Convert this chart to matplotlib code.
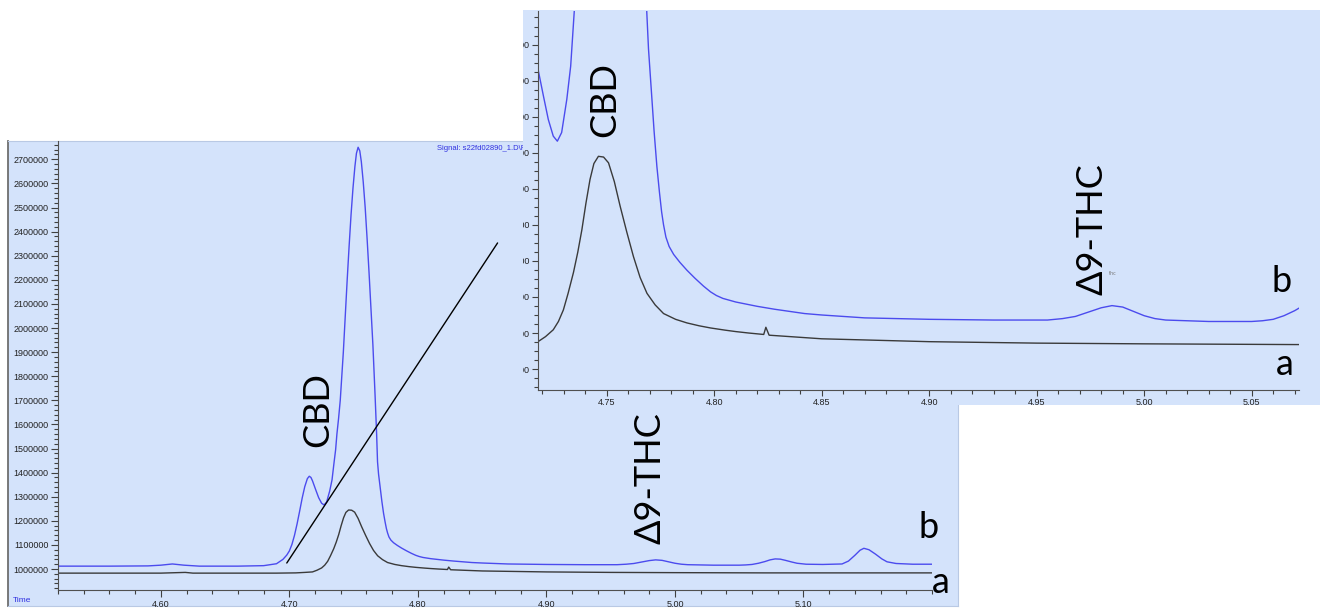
import matplotlib
matplotlib.use("Agg")
import matplotlib.pyplot as plt
from matplotlib.patches import ConnectionPatch
from matplotlib.ticker import MultipleLocator, FixedLocator, FuncFormatter

# Chromatogram traces (retention time in min, signal)
# trace b (blue)
t_b = [4.520, 4.560, 4.590, 4.600, 4.609, 4.618, 4.630, 4.660, 4.680, 4.690,
       4.6950, 4.6980, 4.7000, 4.7020, 4.7040, 4.7060, 4.7080, 4.7100, 4.7120, 4.7140,
       4.7155, 4.7168, 4.7180, 4.7205, 4.7228, 4.7251, 4.7270, 4.7290, 4.7314, 4.7332,
       4.7348, 4.7360, 4.7370, 4.7383, 4.7396, 4.7408, 4.7420, 4.7435, 4.7450, 4.7465,
       4.7480, 4.7495, 4.7510, 4.7522, 4.7535, 4.7548, 4.7560, 4.7575, 4.7590, 4.7605,
       4.7620, 4.7635, 4.7650, 4.7667, 4.7679, 4.7686, 4.7694, 4.7710, 4.7720, 4.7733,
       4.7745, 4.7755, 4.7764, 4.7775, 4.7790, 4.7811, 4.7840, 4.7873, 4.7910, 4.7950,
       4.7983, 4.8010, 4.8040, 4.8100, 4.8150,
       4.8200, 4.8280, 4.8350, 4.8420, 4.8500, 4.8600, 4.8700, 4.9000, 4.9300, 4.9550,
       4.9620, 4.9680, 4.9740, 4.9800, 4.9850, 4.9900, 4.9950, 5.0000, 5.0050, 5.0100,
       5.0300, 5.0500, 5.0550, 5.0600, 5.0650, 5.0700, 5.0740, 5.0780, 5.0820, 5.0860,
       5.0910, 5.0950, 5.1020, 5.1150, 5.1300, 5.1350, 5.1400, 5.1440, 5.1470, 5.1510,
       5.1560, 5.1610, 5.1650, 5.1720, 5.1850, 5.2000]
v_b = [1012000, 1012000, 1013000, 1016000, 1021000, 1016000, 1012000, 1012000, 1014000, 1022000,
       1040000, 1058000, 1075000, 1102000, 1140000, 1187000, 1240000, 1295000, 1342000, 1375000,
       1385000, 1380000, 1366000, 1329000, 1296000, 1273000, 1266000, 1278000, 1324000, 1370000,
       1443000, 1495000, 1560000, 1625000, 1700000, 1800000, 1900000, 2050000, 2200000, 2340000,
       2470000, 2580000, 2670000, 2725000, 2750000, 2735000, 2690000, 2605000, 2500000, 2370000,
       2230000, 2080000, 1930000, 1720000, 1560000, 1445000, 1394000, 1324000, 1280000, 1231000,
       1195000, 1168000, 1150000, 1133000, 1120000, 1109000, 1098000, 1087000, 1076000, 1065000,
       1057000, 1052000, 1048000, 1043000, 1040000,
       1037000, 1033000, 1030000, 1027000, 1025000, 1023000, 1021000, 1019000, 1018000, 1018000,
       1020000, 1023000, 1029000, 1035000, 1038000, 1036000, 1030000, 1024000, 1020000, 1018000,
       1016000, 1016000, 1017000, 1019000, 1024000, 1031000, 1038000, 1042000, 1041000, 1036000,
       1029000, 1024000, 1020000, 1019000, 1021000, 1033000, 1057000, 1078000, 1086000, 1080000,
       1062000, 1042000, 1030000, 1023000, 1020000, 1020000]

# trace a (black)
t_a = [4.520, 4.600, 4.619, 4.625, 4.690, 4.705, 4.712, 4.7180, 4.7215, 4.7251,
       4.7275, 4.7298, 4.7320, 4.7345, 4.7365, 4.7384, 4.7403, 4.7422, 4.7440, 4.7461,
       4.7485, 4.7508, 4.7535, 4.7562, 4.7593, 4.7624, 4.7655, 4.7687, 4.7725, 4.7764,
       4.7820, 4.7873, 4.7930, 4.7983, 4.8050, 4.8100, 4.8160, 4.8230, 4.8240, 4.8255,
       4.8500, 4.9000, 4.9500, 5.0000, 5.0700, 5.1500, 5.2000]
v_a = [983000, 983000, 986000, 983000, 983000, 984000, 986000, 988000, 995000, 1004500,
       1016000, 1032000, 1055000, 1084000, 1112000, 1143000, 1180000, 1213000, 1235000, 1245000,
       1244000, 1236000, 1210000, 1176000, 1140000, 1106000, 1077000, 1055000, 1039000, 1027000,
       1019000, 1014000, 1010000, 1007000, 1004000, 1002000, 1000000, 998000, 1008000, 997000,
       992000, 988000, 986000, 985000, 984000, 984000, 984000]

# zoom guide lines: (main start) -> (main end / inset end)
guide1 = [(4.698, 1025000), (4.862, 2353000)]
guide2 = [(4.996, 954000), (5.037, 900000)]

BG = "#d4e3fb"
BLUE = "#4b4bee"
DARK = "#3a3a3a"
W, H = 1320, 608


def px_rect(x0, y0, x1, y1):
    return [x0 / W, 1 - y1 / H, (x1 - x0) / W, (y1 - y0) / H]


big = dict(family=["Lato", "Open Sans", "DejaVu Sans"], fontsize=26, color="black")
tickfont = dict(family=["Liberation Sans", "DejaVu Sans"], size=6.5)

fig = plt.figure(figsize=(W / 100, H / 100), dpi=100)

# ---- main panel ----
ax_bg = fig.add_axes(px_rect(8, 141, 958, 606), zorder=0)
ax_bg.set_facecolor(BG)
ax_bg.set_xticks([])
ax_bg.set_yticks([])
for s in ax_bg.spines.values():
    s.set_color("#b9c9e4")
ax_bg.spines["left"].set_color("#6e6e6e")
ax_bg.spines["left"].set_linewidth(1.3)
ax_bg.set_xlim(0, 950)
ax_bg.set_ylim(465, 0)
ax_bg.text(437 - 8, 148 - 141, "Signal: s22fd02890_1.D\\F", fontsize=5.5, color="#3030e0",
           va="center", family=["Liberation Sans"])
ax_bg.text(437 - 8, 135 - 141, "Signal: s22fd02890.D\\FID1A", fontsize=5.5, color="#555555",
           va="center", family=["Liberation Sans"], clip_on=True)
ax_bg.text(5, 459, "Time", fontsize=6, color="#3030e0", va="center",
           family=["Liberation Sans"])

ax = fig.add_axes(px_rect(58, 141, 932, 590), zorder=1)
ax.set_facecolor("none")
ax.plot(t_b, v_b, color=BLUE, lw=1.0)
ax.plot(t_a, v_a, color=DARK, lw=1.0)
ax.set_xlim(4.52, 5.20)
ax.set_ylim(913000, 2776000)
ax.spines["top"].set_visible(False)
ax.spines["right"].set_visible(False)
for s in ("left", "bottom"):
    ax.spines[s].set_color("#505050")
ax.xaxis.set_major_locator(FixedLocator([4.6, 4.7, 4.8, 4.9, 5.0, 5.1]))
ax.xaxis.set_minor_locator(MultipleLocator(0.02))
ax.xaxis.set_major_formatter(FuncFormatter(lambda x, p: f"{x:.2f}"))
ax.yaxis.set_major_locator(MultipleLocator(100000))
ax.yaxis.set_minor_locator(MultipleLocator(20000))
ax.yaxis.set_major_formatter(FuncFormatter(lambda y, p: f"{y:.0f}"))
ax.tick_params(which="major", length=5, width=0.8, color="#404040", pad=2)
ax.tick_params(which="minor", length=3, width=0.8, color="#404040")
for lab in ax.get_xticklabels() + ax.get_yticklabels():
    lab.set_fontproperties(tickfont)
    lab.set_color("#222222")

ax.text(4.7223, 1660000, "CBD", rotation=90, ha="center", va="center", **big)
ax.text(4.9807, 1378000, "Δ9-THC", rotation=90, ha="center", va="center", **big)
ax.text(5.197, 1174000, "b", ha="center", va="center", **big)
ax.text(5.207, 946000, "a", ha="center", va="center", **big)

# ---- zoomed inset ----
ax_ibg = fig.add_axes(px_rect(523, 10, 1320, 405), zorder=2)
ax_ibg.set_facecolor(BG)
ax_ibg.set_xticks([])
ax_ibg.set_yticks([])
for s in ax_ibg.spines.values():
    s.set_visible(False)

axi = fig.add_axes(px_rect(538, 11, 1299, 390), zorder=3)
axi.set_facecolor("none")
axi.plot(t_b, v_b, color=BLUE, lw=1.0)
axi.plot(t_a, v_a, color=DARK, lw=1.0)
axi.set_xlim(4.718, 5.072)
axi.set_ylim(921000, 1446500)
axi.spines["top"].set_visible(False)
axi.spines["right"].set_visible(False)
for s in ("left", "bottom"):
    axi.spines[s].set_color("#505050")
axi.xaxis.set_major_locator(FixedLocator([4.75, 4.80, 4.85, 4.90, 4.95, 5.00, 5.05]))
axi.xaxis.set_minor_locator(MultipleLocator(0.01))
axi.xaxis.set_major_formatter(FuncFormatter(lambda x, p: f"{x:.2f}"))
axi.yaxis.set_major_locator(FixedLocator([950000 + 50000 * i for i in range(10)]))
axi.yaxis.set_minor_locator(MultipleLocator(12500))
axi.yaxis.set_major_formatter(FuncFormatter(lambda y, p: f"{y:.0f}"))
axi.tick_params(which="both", length=4, width=0.8, color="#404040", pad=2)
axi.tick_params(which="minor", length=3)
for lab in axi.get_xticklabels() + axi.get_yticklabels():
    lab.set_fontproperties(tickfont)
    lab.set_color("#222222")
for lab in axi.get_yticklabels():
    lab.set_clip_on(True)
    lab.set_clip_box(ax_ibg.bbox)

axi.text(4.7492, 1324000, "CBD", rotation=90, ha="center", va="center", **big)
axi.text(4.9757, 1143500, "Δ9-THC", rotation=90, ha="center", va="center", **big)
axi.text(4.9835, 1080000, "thc", fontsize=3.5, color="#777777")
axi.text(5.0638, 1071000, "b", ha="center", va="center", **big)
axi.text(5.0656, 956000, "a", ha="center", va="center", **big)

# ---- zoom guide lines ----
con1 = ConnectionPatch(xyA=guide1[0], coordsA="data", axesA=ax,
                       xyB=guide1[1], coordsB="data", axesB=ax,
                       color="black", lw=1.0, zorder=5)
con2 = ConnectionPatch(xyA=guide2[0], coordsA="data", axesA=ax,
                       xyB=guide2[1], coordsB="data", axesB=axi,
                       color="black", lw=1.0, zorder=5)
fig.add_artist(con1)
fig.add_artist(con2)

fig.savefig("out.png", dpi=100, facecolor="white")
